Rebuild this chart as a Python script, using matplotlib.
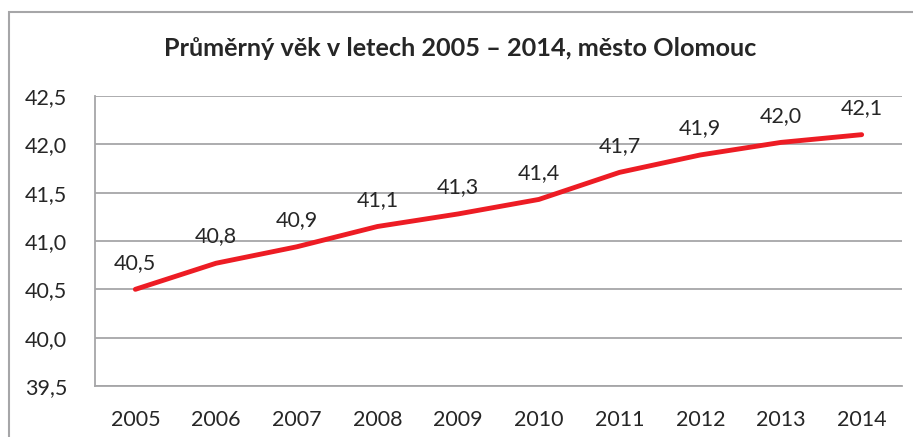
import matplotlib
matplotlib.use("Agg")
import matplotlib.pyplot as plt
from matplotlib.patches import Rectangle

years = ["2005", "2006", "2007", "2008", "2009", "2010", "2011", "2012", "2013", "2014"]
values = [40.50, 40.77, 40.94, 41.15, 41.28, 41.43, 41.71, 41.89, 42.02, 42.10]
labels = ["40,5", "40,8", "40,9", "41,1", "41,3", "41,4", "41,7", "41,9", "42,0", "42,1"]
yticks = [39.5, 40.0, 40.5, 41.0, 41.5, 42.0, 42.5]
title = "Průměrný věk v letech 2005 – 2014, město Olomouc"

plt.rcParams['font.family'] = ['Lato', 'DejaVu Sans']
W, H = 913, 437
fig = plt.figure(figsize=(W / 100, H / 100), dpi=100)
fig.patch.set_facecolor("white")

# outer chart border
fig.patches.append(Rectangle((9 / W, -0.1), 1.2, 1 - 12 / H + 0.1, transform=fig.transFigure,
                             fill=False, edgecolor="#a6a6a8", linewidth=1.5))

ax = fig.add_axes([95 / W, 1 - 386 / H, (902 - 95) / W, (386 - 96) / H])
x = list(range(len(years)))
ax.plot(x, values, color="#ed1c24", linewidth=3.5, solid_capstyle="round", zorder=3)
for xi, v, lab in zip(x, values, labels):
    ax.annotate(lab, (xi, v), xytext=(0, 12), textcoords="offset points",
                ha="center", va="bottom", fontsize=15.5, color="#262626")

ax.set_xlim(-0.5, len(years) - 0.5)
ax.set_ylim(39.5, 42.5)
ax.set_yticks(yticks)
ax.set_yticklabels([f"{t:.1f}".replace(".", ",") for t in yticks])
ax.set_xticks(x)
ax.set_xticklabels(years)
ax.tick_params(axis="both", length=0, labelsize=15.5, colors="#262626")
ax.tick_params(axis="y", pad=20)
ax.tick_params(axis="x", pad=17)
ax.grid(axis="y", color="#a6a6a8", linewidth=1.3)
ax.set_axisbelow(True)
for s in ["top", "right"]:
    ax.spines[s].set_visible(False)
ax.spines["left"].set_color("#a6a6a8")
ax.spines["left"].set_linewidth(1.3)
ax.spines["bottom"].set_color("#a6a6a8")
ax.spines["bottom"].set_linewidth(1.3)

fig.text(460 / W, 1 - 48 / H, title, ha="center", va="center", fontsize=18.2,
         fontweight="bold", color="#262626")

fig.savefig("out.png", dpi=100, facecolor="white")
